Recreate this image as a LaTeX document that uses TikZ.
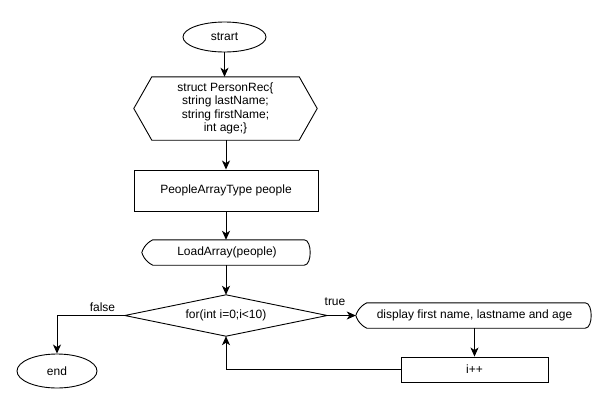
\documentclass[tikz,border=0pt]{standalone}
\usepackage{fontspec}
\setmainfont{Liberation Sans}
\usetikzlibrary{shapes.geometric,arrows.meta,calc}
\begin{document}
\begin{tikzpicture}[x=1pt,y=-1pt,
  every node/.style={font=\fontsize{12}{13.4}\selectfont, inner sep=0pt},
  ln/.style={line width=0.9pt},
  arr/.style={ln,-{Stealth[length=9pt,width=8pt,inset=2.5pt]}},
  term/.style={ellipse, draw, ln},
  box/.style={rectangle, draw, ln},
  ghost/.style={rectangle, align=center},
  lbl/.style={font=\fontsize{12}{13}\selectfont}
]
\useasboundingbox (0,0) rectangle (608,405);
% start
\node[term, minimum width=83, minimum height=30] (start) at (224.5,37) {strart};
% hexagon (struct)
\node[ghost, minimum width=183, minimum height=63] (rec) at (225.5,108.5)
  {struct PersonRec\{\\string lastName;\\string firstName;\\int age;\}};
\draw[ln] (rec.west) -- ($(rec.north west)+(18,0)$) -- ($(rec.north east)+(-18,0)$)
  -- (rec.east) -- ($(rec.south east)+(-18,0)$) -- ($(rec.south west)+(18,0)$) -- cycle;
% people rect
\node[box, minimum width=184, minimum height=41] (people) at (226,190.5) {PeopleArrayType people};
% LoadArray display
\node[ghost, minimum width=170, minimum height=25] (load) at (227,252.5) {LoadArray(people)};
\draw[ln] ($(load.north west)+(11,0)$) -- ($(load.north east)+(-8,0)$)
  .. controls ($(load.north east)+(0,0)$) and ($(load.south east)+(0,0)$) .. ($(load.south east)+(-8,0)$)
  -- ($(load.south west)+(11,0)$)
  .. controls ($(load.south west)+(3,-4)$) and ($(load.west)+(1,3)$) .. (load.west)
  .. controls ($(load.west)+(1,-3)$) and ($(load.north west)+(3,4)$) .. ($(load.north west)+(11,0)$) -- cycle;
% diamond
\node[ghost, minimum width=202, minimum height=41] (loop) at (226,315.5) {for(int i=0;i<10)};
\draw[ln] (loop.west) -- (loop.north) -- (loop.east) -- (loop.south) -- cycle;
% end
\node[term, minimum width=80, minimum height=34] (end) at (57,371) {end};
% display
\node[ghost, minimum width=237, minimum height=25] (disp) at (474.5,315.5) {display first name, lastname and age};
\draw[ln] ($(disp.north west)+(11,0)$) -- ($(disp.north east)+(-8,0)$)
  .. controls ($(disp.north east)+(0,0)$) and ($(disp.south east)+(0,0)$) .. ($(disp.south east)+(-8,0)$)
  -- ($(disp.south west)+(11,0)$)
  .. controls ($(disp.south west)+(3,-4)$) and ($(disp.west)+(1,3)$) .. (disp.west)
  .. controls ($(disp.west)+(1,-3)$) and ($(disp.north west)+(3,4)$) .. ($(disp.north west)+(11,0)$) -- cycle;
% i++
\node[box, minimum width=147, minimum height=25] (inc) at (474.5,369.5) {i++};
% connectors
\draw[arr] (start.south) -- (start.south |- rec.north);
\draw[arr] (rec.south -| people.north) -- (people.north);
\draw[arr] (people.south) -- (people.south |- load.north);
\draw[arr] (load.south -| loop.north) -- (loop.north);
\coordinate (fc) at (end.north |- loop.west);
\draw[arr] (loop.west) -- (fc) -- (end.north);
\draw[arr] (loop.east) -- (disp.west);
\draw[arr] (disp.south) -- (inc.north);
\coordinate (lc) at (loop.south |- inc.west);
\draw[arr] (inc.west) -- (lc) -- (loop.south);
% labels
\node[lbl] (flab) at (102.5,307) {false};
\node[lbl] (tlab) at (335,302) {true};
\end{tikzpicture}
\end{document}
